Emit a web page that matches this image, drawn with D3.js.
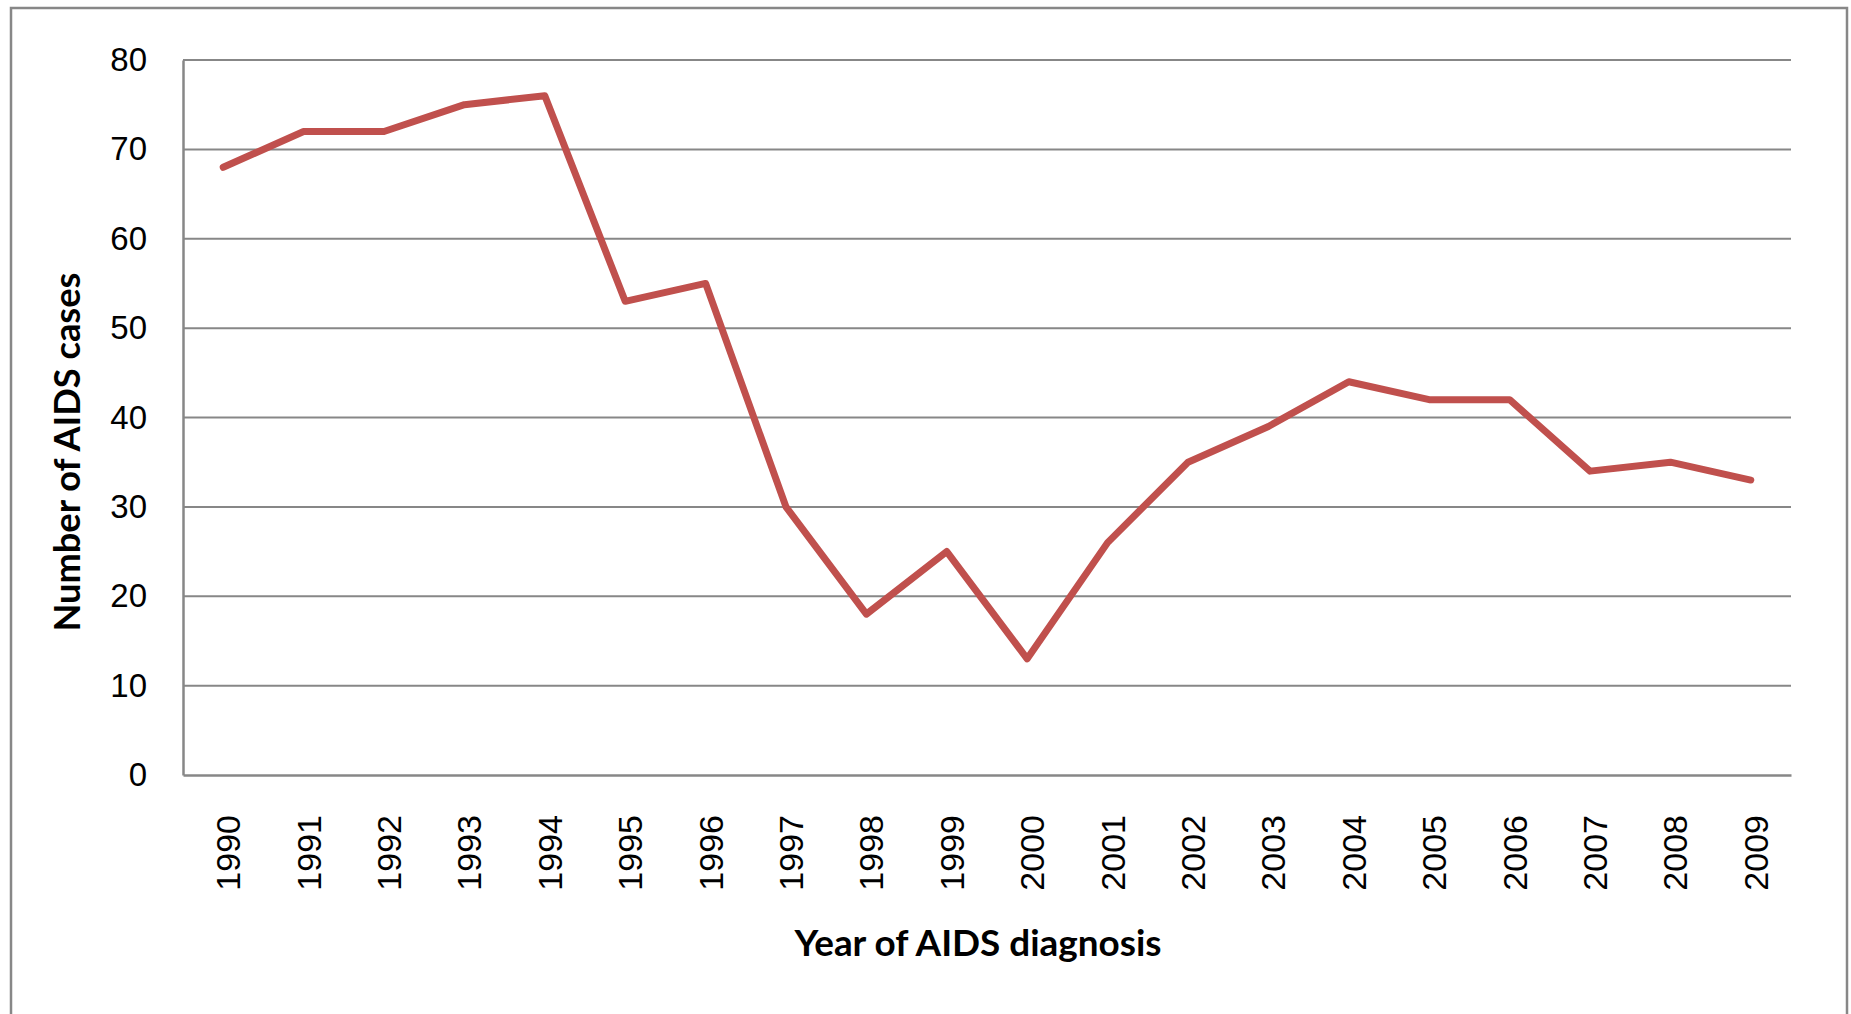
<!DOCTYPE html>
<html>
<head>
<meta charset="utf-8">
<script src="https://cdn.jsdelivr.net/npm/d3@7"></script>
<style>
    body { margin: 0; background: #fff; }
    svg { display: block; }
</style>
</head>
<body>
<div id="chart"></div>
<script>
const years = ["1990", "1991", "1992", "1993", "1994", "1995", "1996", "1997", "1998", "1999",
    "2000", "2001", "2002", "2003", "2004", "2005", "2006", "2007", "2008", "2009"]
const cases = [68, 72, 72, 75, 76, 53, 55, 30, 18, 25, 13, 26, 35, 39, 44, 42, 42, 34, 35, 33]
const yTicks = [0, 10, 20, 30, 40, 50, 60, 70, 80]

const width = 1851
const height = 1014
const margin = {
    top: 60,
    bottom: 239,
    left: 183,
    right: 60,
}
const innerWidth = width - margin.left - margin.right
const innerHeight = height - margin.top - margin.bottom
const grey = "#878787"

const svg = d3.select("div#chart").append("svg").attr("width", width).attr("height", height)

// chart area frame (bottom edge runs off the page)
svg.append("rect")
    .attr("x", 11).attr("y", 8)
    .attr("width", 1836).attr("height", 1100)
    .attr("fill", "none").attr("stroke", grey).attr("stroke-width", 2.5)

const x = d3.scaleBand().domain(years).range([0, innerWidth])
const y = d3.scaleLinear().domain([0, 80]).range([innerHeight, 0])

const gridGroup = svg.append("g").attr("class", "gridGroup")
    .attr("transform", `translate(${margin.left}, ${margin.top})`)

gridGroup.selectAll("line")
    .data(yTicks.filter(d => d > 0))
    .join("line")
    .attr("x1", 0).attr("x2", innerWidth)
    .attr("y1", d => y(d)).attr("y2", d => y(d))
    .attr("stroke", grey).attr("stroke-width", 2)

const yAxisGroup = svg.append("g").attr("class", "yAxisGroup")
    .attr("transform", `translate(${margin.left}, ${margin.top})`)
const xAxisGroup = svg.append("g").attr("class", "xAxisGroup")
    .attr("transform", `translate(${margin.left}, ${margin.top + innerHeight})`)

const yAxis = d3.axisLeft(y).tickValues(yTicks).tickSize(0).tickPadding(36)
const xAxis = d3.axisBottom(x).tickSize(0)

yAxisGroup.call(yAxis)
yAxisGroup.select(".domain").attr("stroke", grey).attr("stroke-width", 2.5)
yAxisGroup.selectAll("text")
    .attr("font-family", "Liberation Sans, Arial, sans-serif")
    .attr("font-size", 33).attr("fill", "#000")

xAxisGroup.call(xAxis)
xAxisGroup.select(".domain").attr("stroke", grey).attr("stroke-width", 2.5)
xAxisGroup.selectAll(".tick text")
    .attr("font-family", "Liberation Sans, Arial, sans-serif")
    .attr("font-size", 34).attr("fill", "#000")
    .attr("text-anchor", "end")
    .attr("transform", "translate(17, 40) rotate(-90)")
    .attr("x", 0).attr("y", 0).attr("dy", 0)

const elementGroup = svg.append("g").attr("class", "elementGroup")
    .attr("transform", `translate(${margin.left}, ${margin.top})`)

elementGroup.datum(cases)
    .append("path")
    .attr("id", "linea")
    .attr("fill", "none")
    .attr("stroke", "#C0504D")
    .attr("stroke-width", 7)
    .attr("stroke-linecap", "round")
    .attr("stroke-linejoin", "round")
    .attr("d", d3.line()
        .x((d, i) => x(years[i]) + x.bandwidth() / 2)
        .y(d => y(d))
    )

// axis titles
svg.append("text")
    .attr("x", 978).attr("y", 956)
    .attr("text-anchor", "middle")
    .attr("font-family", "Lato, Open Sans, sans-serif")
    .attr("font-weight", "bold")
    .attr("font-size", 36)
    .attr("textLength", 367).attr("lengthAdjust", "spacingAndGlyphs")
    .text("Year of AIDS diagnosis")

svg.append("text")
    .attr("transform", "translate(80, 452) rotate(-90)")
    .attr("text-anchor", "middle")
    .attr("font-family", "Lato, Open Sans, sans-serif")
    .attr("font-weight", "bold")
    .attr("font-size", 36)
    .attr("textLength", 359).attr("lengthAdjust", "spacingAndGlyphs")
    .text("Number of AIDS cases")
</script>
</body>
</html>
